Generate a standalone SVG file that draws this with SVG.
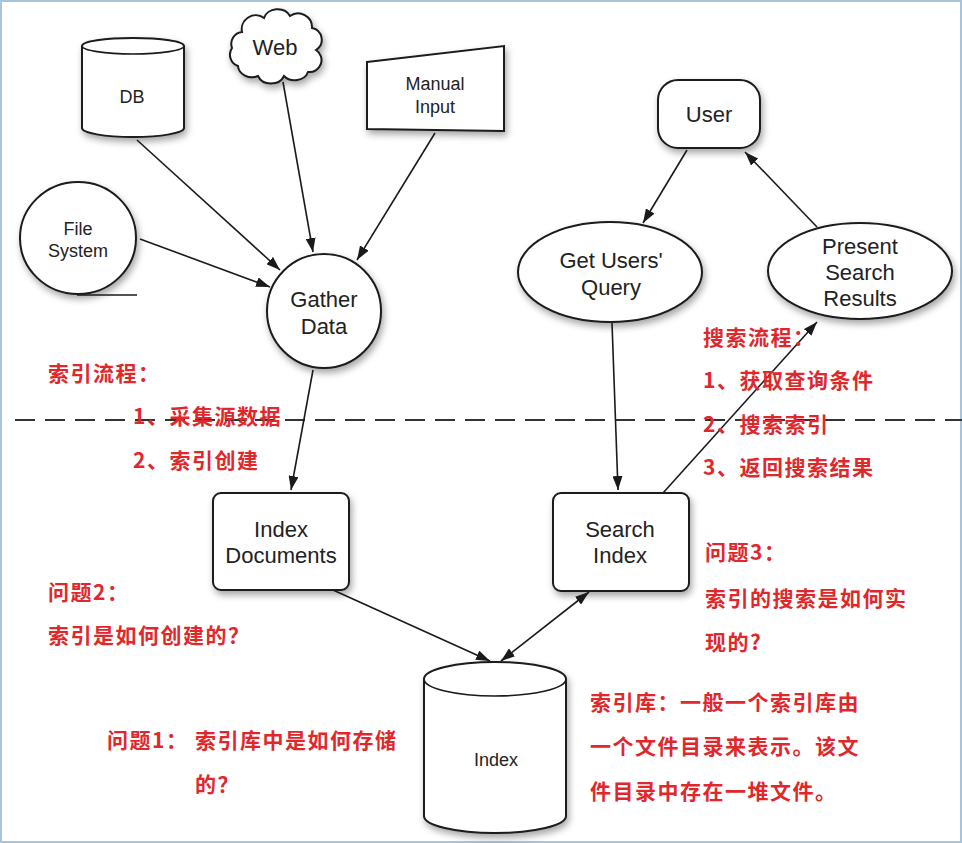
<svg xmlns="http://www.w3.org/2000/svg" width="962" height="843" viewBox="0 0 962 843">
<defs>
<style>
.shape{fill:#fff;stroke:#1a1a1a;stroke-width:2;filter:url(#sh)}
.ln{fill:none;stroke:#1a1a1a;stroke-width:1.6}
.t{font-family:"Liberation Sans",Arial,sans-serif;fill:#222;text-anchor:middle;font-size:22px}
.s{font-size:18px}
.red{font-family:"Noto Sans CJK SC","Liberation Sans",sans-serif;font-weight:bold;fill:#e0282c;font-size:21px;letter-spacing:1.5px}
</style>
<filter id="sh" x="-20%" y="-20%" width="150%" height="150%">
<feDropShadow dx="2" dy="4" stdDeviation="3.5" flood-color="#000" flood-opacity="0.35"/>
</filter>
<marker id="ah" viewBox="0 0 14 10" refX="14" refY="5" markerWidth="14" markerHeight="10" markerUnits="userSpaceOnUse" orient="auto-start-reverse">
<path d="M0,0 L14,5 L0,10 Z" fill="#1a1a1a"/>
</marker>
</defs>
<rect x="0" y="0" width="962" height="843" fill="#fff"/>
<rect x="1" y="1" width="960" height="841" fill="none" stroke="#a8c4da" stroke-width="2"/>

<line x1="15" y1="420" x2="962" y2="420" stroke="#333" stroke-width="2" stroke-dasharray="20,10"/>

<g id="db">
<path class="shape" d="M82,46 A51,8 0 0 1 184,46 L184,128 A51,9 0 0 1 82,128 Z"/>
<path class="ln" stroke-width="2" d="M82,46 A51,8 0 0 0 184,46"/>
<text class="t s" x="132" y="103">DB</text>
</g>
<g id="web">
<path class="shape" d="M242,32 a14,14 0 0 1 22,-14 a14,12 0 0 1 26,-2 a14,14 0 0 1 22,12 a12,12 0 0 1 4,22 a12,12 0 0 1 -8,22 a14,12 0 0 1 -24,4 a14,12 0 0 1 -26,0 a14,12 0 0 1 -20,-10 a12,12 0 0 1 -6,-18 a12,12 0 0 1 10,-16 Z"/>
<text class="t" x="275" y="55">Web</text>
</g>
<g id="manual">
<path class="shape" d="M367,62 L504,46 L504,131 L367,129 Z"/>
<text class="t s" x="435" y="90">Manual</text>
<text class="t s" x="435" y="113">Input</text>
</g>
<g id="filesystem">
<ellipse class="shape" cx="78" cy="238" rx="58" ry="56"/>
<line x1="77" y1="295" x2="137" y2="295" stroke="#1a1a1a" stroke-width="1.5"/>
<text class="t s" x="78" y="235">File</text>
<text class="t s" x="78" y="257">System</text>
</g>
<g id="gather">
<circle class="shape" cx="324" cy="311" r="57"/>
<text class="t" x="324" y="307">Gather</text>
<text class="t" x="324" y="334">Data</text>
</g>
<g id="user">
<rect class="shape" x="658" y="80" width="102" height="68" rx="20"/>
<text class="t" x="709" y="122">User</text>
</g>
<g id="getquery">
<ellipse class="shape" cx="610" cy="272" rx="92" ry="50"/>
<text class="t" x="611" y="268">Get Users'</text>
<text class="t" x="611" y="295">Query</text>
</g>
<g id="present">
<ellipse class="shape" cx="860" cy="271" rx="92" ry="48"/>
<text class="t" x="860" y="254">Present</text>
<text class="t" x="860" y="280">Search</text>
<text class="t" x="860" y="306">Results</text>
</g>
<g id="indexdocs">
<rect class="shape" x="213" y="493" width="136" height="97" rx="8"/>
<text class="t" x="281" y="537">Index</text>
<text class="t" x="281" y="563">Documents</text>
</g>
<g id="searchindex">
<rect class="shape" x="553" y="493" width="136" height="98" rx="8"/>
<text class="t" x="620" y="537">Search</text>
<text class="t" x="620" y="563">Index</text>
</g>
<g id="index">
<path class="shape" d="M424,679 A71,17 0 0 1 566,679 L566,816 A71,17 0 0 1 424,816 Z"/>
<path class="ln" stroke-width="2" d="M424,679 A71,17 0 0 0 566,679"/>
<text class="t s" x="496" y="766">Index</text>
</g>

<g id="connectors">
<line class="ln" x1="137" y1="140" x2="280" y2="270" marker-end="url(#ah)"/>
<line class="ln" x1="140" y1="239" x2="270" y2="287" marker-end="url(#ah)"/>
<line class="ln" x1="283" y1="82" x2="313" y2="252" marker-end="url(#ah)"/>
<line class="ln" x1="435" y1="133" x2="357" y2="260" marker-end="url(#ah)"/>
<line class="ln" x1="313" y1="370" x2="291" y2="490" marker-end="url(#ah)"/>
<line class="ln" x1="333" y1="590" x2="490" y2="661" marker-end="url(#ah)"/>
<line class="ln" x1="501" y1="661" x2="589" y2="592" marker-start="url(#ah)" marker-end="url(#ah)"/>
<line class="ln" x1="687" y1="150" x2="643" y2="223" marker-end="url(#ah)"/>
<line class="ln" x1="817" y1="227" x2="745" y2="152" marker-end="url(#ah)"/>
<line class="ln" x1="612" y1="323" x2="618" y2="490" marker-end="url(#ah)"/>
<line class="ln" x1="663" y1="493" x2="817" y2="322" marker-end="url(#ah)"/>
</g>

<g id="notes">
<text class="red" x="48" y="381">索引流程：</text>
<text class="red" x="133" y="424">1、采集源数据</text>
<text class="red" x="133" y="468">2、索引创建</text>
<text class="red" x="48" y="600">问题2：</text>
<text class="red" x="48" y="643">索引是如何创建的？</text>
<text class="red" x="107" y="748">问题1：</text>
<text class="red" x="195" y="748">索引库中是如何存储</text>
<text class="red" x="195" y="792">的？</text>
<text class="red" x="703" y="345">搜索流程：</text>
<text class="red" x="703" y="388">1、获取查询条件</text>
<text class="red" x="703" y="432">2、搜索索引</text>
<text class="red" x="703" y="475">3、返回搜索结果</text>
<text class="red" x="705" y="560">问题3：</text>
<text class="red" x="705" y="606">索引的搜索是如何实</text>
<text class="red" x="705" y="650">现的?</text>
<text class="red" x="590" y="710">索引库：一般一个索引库由</text>
<text class="red" x="590" y="754">一个文件目录来表示。该文</text>
<text class="red" x="590" y="799">件目录中存在一堆文件。</text>
</g>
</svg>
